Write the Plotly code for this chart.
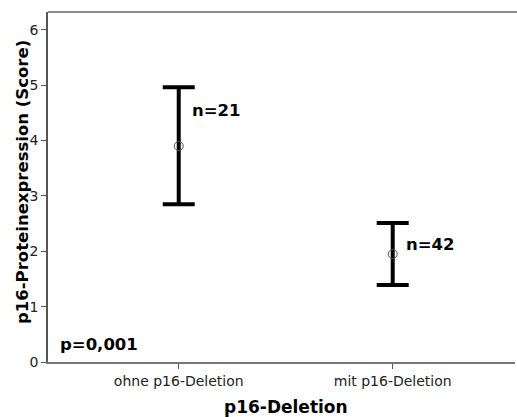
import plotly.graph_objects as go

categories = ["ohne p16-Deletion", "mit p16-Deletion"]
means = [3.90, 1.95]
upper = [4.96, 2.51]
lower = [2.85, 1.39]
n_labels = ["n=21", "n=42"]
p_text = "p=0,001"
y_ticks = [0, 1, 2, 3, 4, 5, 6]

xpos = list(range(len(categories)))
err_plus = [u - m for u, m in zip(upper, means)]
err_minus = [m - l for m, l in zip(means, lower)]

FONT = "DejaVu Sans"
PLOT_W = 517 - 48 - 2

fig = go.Figure()
fig.add_trace(go.Scatter(
    x=xpos, y=means, mode="markers",
    marker=dict(symbol="circle-open", size=9, color="#555555", line=dict(width=1, color="#555555")),
    error_y=dict(type="data", symmetric=False, array=err_plus, arrayminus=err_minus,
                 thickness=4, width=16, color="black"),
    showlegend=False, hoverinfo="skip",
))

n_offsets = [0.64, 0.17]
for i, t in enumerate(n_labels):
    fig.add_annotation(x=xpos[i] + 0.053, y=means[i] + n_offsets[i], text=f"<b>{t}</b>",
                       showarrow=False, xanchor="left", yanchor="middle",
                       font=dict(family=FONT, size=16.5, color="black"))

fig.add_annotation(x=-0.565, y=0.31, text=f"<b>{p_text}</b>", showarrow=False,
                   xanchor="left", yanchor="middle",
                   font=dict(family=FONT, size=16.5, color="black"))

fig.add_annotation(xref="paper", yref="paper", x=(285.5 - 48) / PLOT_W, y=(417 - 407.5 - 55) / 350,
                   text="<b>p16-Deletion</b>", showarrow=False, xanchor="center", yanchor="middle",
                   font=dict(family=FONT, size=17, color="black"))

fig.add_annotation(xref="paper", yref="paper", x=(22 - 48) / PLOT_W, y=(362 - 182) / 350,
                   text="<b>p16-Proteinexpression (Score)</b>", textangle=-90, showarrow=False,
                   xanchor="center", yanchor="middle",
                   font=dict(family=FONT, size=16.5, color="black"))

# top frame line, extended to the right edge
fig.add_shape(type="line", xref="paper", yref="paper", x0=0, x1=1.01, y0=1, y1=1,
              line=dict(color="#666666", width=1.5))

fig.update_layout(
    width=517, height=417,
    margin=dict(l=48, r=2, t=12, b=55),
    plot_bgcolor="white", paper_bgcolor="white",
    font=dict(family=FONT, size=12, color="#222222"),
    xaxis=dict(range=[-0.611, 1.5715], tickmode="array", tickvals=xpos, ticktext=categories,
               showline=True, linecolor="#777777", linewidth=1.5,
               ticks="outside", ticklen=5, tickcolor="#555555", showgrid=False, zeroline=False,
               tickfont=dict(family=FONT, size=14, color="#222222")),
    yaxis=dict(range=[0, 6.32], tickmode="array", tickvals=y_ticks,
               showline=True, linecolor="#555555", linewidth=1.5,
               ticks="outside", ticklen=5, tickcolor="#555555", showgrid=False, zeroline=False,
               tickfont=dict(family=FONT, size=14, color="#222222")),
)

fig.write_html("out.html")
